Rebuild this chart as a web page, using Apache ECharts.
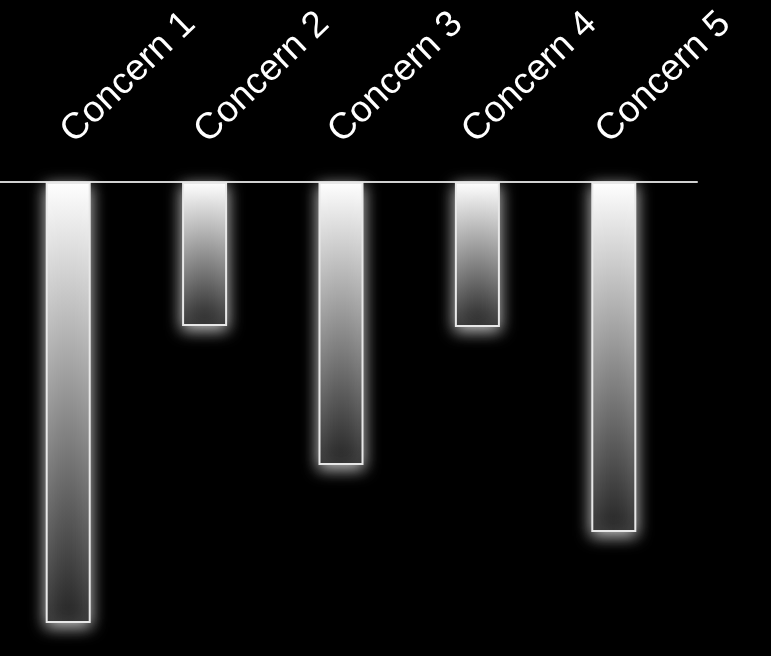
<!DOCTYPE html>
<html>
<head>
<meta charset="utf-8">
<script src="https://cdn.jsdelivr.net/npm/echarts@6/dist/echarts.min.js"></script>
<style>
  html, body { margin: 0; padding: 0; background: #000; }
  #chart { width: 771px; height: 656px; }
</style>
</head>
<body>
<div id="chart"></div>
<script>
// categories and values (bars hang down from the zero line)
const concerns = ['Concern 1', 'Concern 2', 'Concern 3', 'Concern 4', 'Concern 5'];
const concernValues = [-44.1, -14.4, -28.3, -14.5, -35.0];

let chart = echarts.init(document.getElementById('chart'));

// bar fill: white at the axis fading to dark grey at the bar end
const barFill = new echarts.graphic.LinearGradient(0, 0, 0, 1, [
    { offset: 0, color: '#ffffff' },
    { offset: 1, color: '#242424' }
]);

let option = {
    backgroundColor: '#000000',
    animation: false,
    grid: [
        // grid for the bars
        { left: -1, right: 89, top: 182, bottom: 24 },
        // grid used only to place the rotated labels a little to the left
        { left: -14, right: 102, top: 182, bottom: 24 },
        // grid for the long zero line
        { left: 0, right: 74, top: 182, bottom: 24 }
    ],
    xAxis: [
        {
            gridIndex: 0,
            type: 'category',
            position: 'top',
            data: concerns,
            axisLine: { show: false },
            axisTick: { show: false },
            axisLabel: { show: false }
        },
        {
            gridIndex: 1,
            type: 'category',
            position: 'top',
            data: concerns,
            axisLine: { show: false },
            axisTick: { show: false },
            axisLabel: {
                show: true,
                interval: 0,
                rotate: 44,
                margin: 45,
                color: '#ffffff',
                fontSize: 37,
                fontFamily: 'Liberation Sans, Arial, sans-serif'
            }
        },
        {
            gridIndex: 2,
            type: 'category',
            position: 'top',
            data: concerns,
            axisLine: { show: true, onZero: false, lineStyle: { color: '#d0d0d0', width: 2 } },
            axisTick: { show: false },
            axisLabel: { show: false }
        }
    ],
    yAxis: [
        { gridIndex: 0, type: 'value', min: -45, max: 0, show: false },
        { gridIndex: 1, type: 'value', min: -45, max: 0, show: false },
        { gridIndex: 2, type: 'value', min: -45, max: 0, show: false }
    ],
    series: [{
        name: 'Concerns',
        type: 'bar',
        xAxisIndex: 0,
        yAxisIndex: 0,
        barWidth: 45,
        data: concernValues,
        itemStyle: {
            color: barFill,
            borderColor: '#e8e8e8',
            borderWidth: 2,
            shadowColor: 'rgba(255,255,255,0.8)',
            shadowBlur: 16,
            shadowOffsetY: 4
        }
    }]
};

chart.setOption(option);
</script>
</body>
</html>
